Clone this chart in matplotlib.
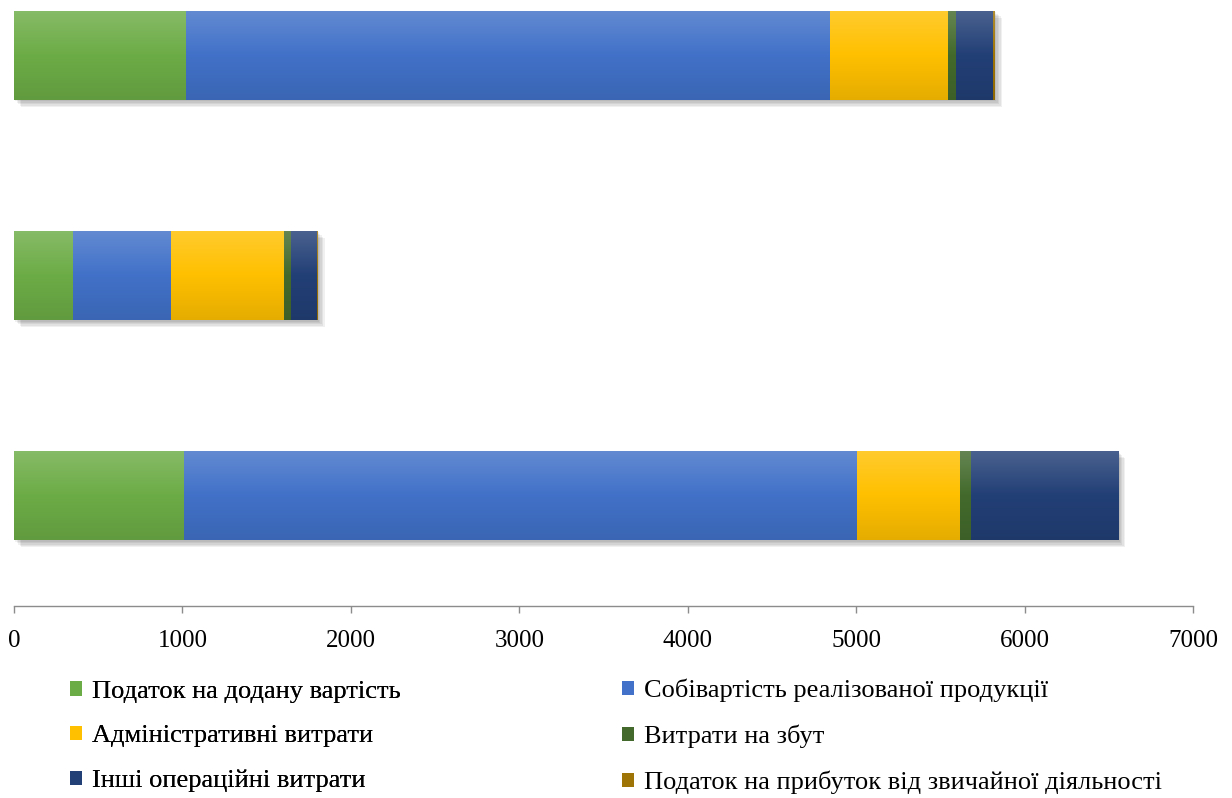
import matplotlib.pyplot as plt
import matplotlib.patheffects as pe
import numpy as np
from matplotlib.colors import LinearSegmentedColormap, to_rgb
from matplotlib.patches import Patch

plt.rcParams['font.family'] = ['Liberation Serif', 'DejaVu Serif']

# три періоди, знизу вгору
periods = [0, 1, 2]

series_names = [
    "Податок на додану вартість",
    "Собівартість реалізованої продукції",
    "Адміністративні витрати",
    "Витрати на збут",
    "Інші операційні витрати",
    "Податок на прибуток від звичайної діяльності",
]
vat = [1009, 350, 1021]
cost_of_sales = [3997, 582, 3825]
admin = [612, 671, 700]
selling = [65, 42, 48]
other_ops = [873, 154, 220]
income_tax = [0, 4, 11]

values = [vat, cost_of_sales, admin, selling, other_ops, income_tax]
colors = ["#6cac46", "#4171c8", "#ffc000", "#436a2c", "#223f76", "#9e7406"]

xticks = [0, 1000, 2000, 3000, 4000, 5000, 6000, 7000]


def shade(c, k):
    r = np.array(to_rgb(c))
    if k >= 0:
        return tuple(r + (1 - r) * k)
    return tuple(r * (1 + k))


fig = plt.figure(figsize=(12.32, 7.98), dpi=100)
ax = fig.add_axes([14 / 1232, 192 / 798, (1193 - 14) / 1232, 606 / 798])

bar_h = 0.405
totals = np.sum(values, axis=0)

# м'яка тінь під кожною смугою
shadows = [pe.SimplePatchShadow(offset=(d, -d), shadow_rgbFace="k", alpha=0.06)
           for d in (1.0, 2.0, 3.0, 4.0, 5.0)]
ax.barh(periods, totals, height=bar_h, color="white", zorder=1,
        path_effects=shadows + [pe.Normal()])

grad = np.linspace(0, 1, 64).reshape(-1, 1)
left = np.zeros(len(periods))
for name, vals, c in zip(series_names, values, colors):
    bars = ax.barh(periods, vals, left=left, height=bar_h, color=c,
                   linewidth=0, zorder=2, label=name)
    cmap = LinearSegmentedColormap.from_list(
        name, [shade(c, 0.18), shade(c, 0.0), shade(c, -0.1)])
    for b in bars:
        x0, y0 = b.get_x(), b.get_y()
        im = ax.imshow(grad, cmap=cmap, aspect="auto", zorder=3,
                       extent=[x0, x0 + b.get_width(), y0, y0 + b.get_height()])
        im.set_clip_path(b)
    left = left + np.array(vals)

ax.set_xlim(0, 7000)
ax.set_ylim(-0.5, 2.252)
ax.set_xticks(xticks)
ax.set_xticklabels([str(t) for t in xticks], fontsize=18)
ax.set_yticks([])
for s in ("left", "top", "right"):
    ax.spines[s].set_visible(False)
ax.spines["bottom"].set_color("#8c8c8c")
ax.spines["bottom"].set_linewidth(1.0)
ax.tick_params(axis="x", direction="out", length=5, width=1.0,
               color="#8c8c8c", pad=12)

handles = [Patch(facecolor=c, edgecolor="none") for c in colors]
leg_kw = dict(loc="upper left", frameon=False, fontsize=19, borderpad=0,
              borderaxespad=0, handlelength=0.47, handleheight=0.47,
              handletextpad=0.35, labelspacing=0.85)
leg1 = fig.legend(handles[0::2], series_names[0::2],
                  bbox_to_anchor=(70 / 1232, 1 - 681 / 798), **leg_kw)
fig.add_artist(leg1)
fig.legend(handles[1::2], series_names[1::2],
           bbox_to_anchor=(622 / 1232, 1 - 679 / 798), **leg_kw)

fig.savefig("out.png", dpi=100)
